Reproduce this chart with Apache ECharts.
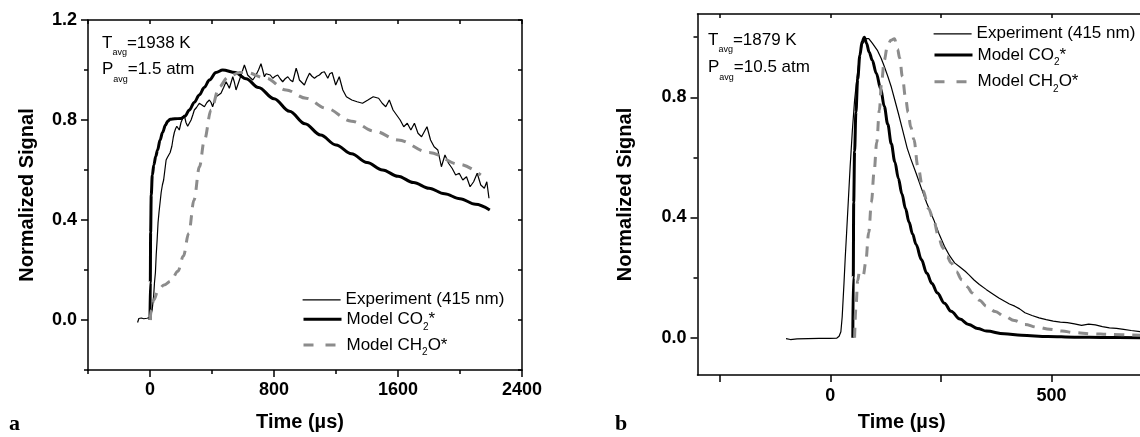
<!DOCTYPE html>
<html>
<head>
<meta charset="utf-8">
<script src="https://cdn.jsdelivr.net/npm/echarts@6/dist/echarts.min.js"></script>
<style>
  html, body { margin: 0; padding: 0; background: #fff; }
  #chart { width: 1140px; height: 437px; }
</style>
</head>
<body>
<div id="chart"></div>
<script>
// ---- panel a : 1938 K, 1.5 atm ----
const expA = [
  [-80,-0.01],[-72,0.006],[-64,0.004],[-56,0.008],[-48,0.003],[-40,0.005],[-30,0.006],[-20,0.007],[-10,0.009],[0,0.01],
  [8,0.015],[14,0.04],[19,0.07],[24,0.1],[29,0.15],[35,0.19],[40,0.26],[46,0.32],[52,0.39],[58,0.43],[65,0.47],[72,0.51],
  [80,0.54],[88,0.56],[96,0.6],[104,0.64],[112,0.65],[122,0.655],[130,0.67],[141,0.695],[150,0.73],[157,0.75],[165,0.765],
  [173,0.775],[181,0.77],[189,0.76],[200,0.79],[210,0.805],[221,0.82],[232,0.79],[243,0.775],[254,0.773],[265,0.8],[276,0.82],
  [286,0.84],[300,0.85],[318,0.867],[335,0.86],[351,0.853],[367,0.87],[383,0.88],[394,0.87],[404,0.853],[415,0.875],[426,0.893],
  [442,0.9],[458,0.907],[475,0.93],[491,0.953],[502,0.94],[512,0.927],[523,0.95],[534,0.973],[545,0.95],[555,0.92],[566,0.94],
  [577,0.96],[593,0.99],[609,1.02],[620,1.0],[630,0.98],[646,0.97],[663,0.96],[674,0.97],[684,0.98],[700,1.0],[716,1.025],
  [727,1.0],[738,0.973],[749,0.985],[760,0.993],[776,0.98],[792,0.967],[808,0.975],[824,0.98],[840,0.965],[856,0.953],
  [872,0.965],[889,0.973],[905,0.96],[921,0.953],[932,0.98],[943,1.007],[954,0.985],[964,0.96],[980,0.95],[996,0.94],
  [1012,0.965],[1029,0.987],[1045,0.975],[1061,0.967],[1077,0.975],[1093,0.98],[1109,0.99],[1125,0.993],[1136,0.98],
  [1147,0.967],[1160,0.985],[1175,0.99],[1198,0.94],[1221,0.973],[1244,0.92],[1267,0.893],[1302,0.88],[1336,0.873],
  [1371,0.867],[1406,0.88],[1440,0.893],[1475,0.887],[1498,0.867],[1521,0.853],[1544,0.88],[1568,0.84],[1591,0.82],
  [1614,0.8],[1637,0.773],[1660,0.787],[1683,0.76],[1706,0.787],[1729,0.747],[1752,0.733],[1787,0.773],[1810,0.72],
  [1833,0.693],[1857,0.68],[1880,0.613],[1903,0.66],[1926,0.627],[1949,0.607],[1972,0.58],[1995,0.587],[2018,0.56],
  [2042,0.573],[2065,0.533],[2088,0.553],[2111,0.587],[2134,0.54],[2157,0.527],[2173,0.553],[2187,0.487]
];
const co2A = [
  [0,0],[2,0.15],[4,0.35],[8,0.5],[15,0.58],[25,0.62],[37,0.655],[49,0.68],[65,0.72],[81,0.75],[100,0.78],[114,0.795],
  [130,0.803],[160,0.805],[200,0.806],[225,0.815],[254,0.84],[285,0.87],[318,0.9],[350,0.93],[383,0.96],[426,0.99],
  [469,1.0],[550,0.99],[620,0.965],[700,0.93],[800,0.885],[900,0.835],[1000,0.785],[1100,0.74],[1200,0.7],[1300,0.665],
  [1400,0.63],[1500,0.6],[1600,0.575],[1700,0.55],[1800,0.527],[1900,0.505],[2000,0.485],[2100,0.463],[2192,0.44]
];
const ch2oA = [
  [0,0],[10,0.04],[25,0.08],[50,0.115],[90,0.14],[134,0.155],[180,0.195],[215,0.255],[250,0.347],[284,0.48],[319,0.613],
  [351,0.72],[394,0.84],[447,0.933],[501,0.97],[577,0.99],[620,0.99],[749,0.967],[878,0.92],[1007,0.887],[1136,0.847],
  [1300,0.795],[1450,0.755],[1600,0.72],[1800,0.67],[2000,0.622],[2134,0.58]
];
const xLabelsA = [0, 800, 1600, 2400];
const xMinorA = [-400, 400, 1200, 2000];
const xAllA = [-400, 0, 400, 800, 1200, 1600, 2000, 2400];
const yLabelsA = [0, 0.4, 0.8, 1.2];
const yMinorA = [-0.2, 0.2, 0.6, 1.0];
const yAllA = [-0.2, 0, 0.2, 0.4, 0.6, 0.8, 1.0, 1.2];

// ---- panel b : 1879 K, 10.5 atm ----
const expB = [
  [-100,-0.003],[-90,-0.006],[-75,-0.004],[-50,-0.003],[-25,-0.002],[0,-0.002],[15,-0.001],[20,0.005],[24,0.02],[27,0.07],
  [31,0.18],[34,0.27],[37,0.35],[41,0.46],[45,0.57],[50,0.69],[55,0.79],[60,0.86],[65,0.92],[72,0.975],[80,0.995],[87,0.995],
  [95,0.98],[107,0.955],[115,0.93],[122,0.903],[130,0.87],[138,0.834],[146,0.79],[154,0.746],[162,0.7],[174,0.63],[182,0.595],
  [194,0.547],[206,0.497],[218,0.448],[234,0.392],[246,0.345],[258,0.304],[270,0.272],[281,0.249],[293,0.235],[305,0.221],
  [313,0.21],[325,0.192],[337,0.177],[353,0.16],[369,0.144],[381,0.132],[393,0.122],[405,0.112],[417,0.105],[428,0.096],
  [440,0.083],[456,0.074],[472,0.066],[488,0.06],[504,0.055],[520,0.052],[536,0.05],[552,0.046],[568,0.041],[584,0.045],
  [599,0.043],[615,0.037],[631,0.033],[647,0.031],[663,0.028],[680,0.024],[700,0.02]
];
const co2B = [
  [51,0],[52,0.2],[53,0.45],[55,0.62],[58,0.75],[62,0.86],[67,0.94],[72,0.985],[77,1.0],[82,0.98],[88,0.95],[95,0.923],
  [104,0.88],[114,0.828],[122,0.77],[130,0.71],[138,0.645],[146,0.585],[154,0.53],[162,0.478],[170,0.43],[178,0.385],
  [186,0.345],[194,0.31],[206,0.26],[218,0.215],[230,0.18],[242,0.149],[258,0.115],[273,0.088],[293,0.062],[313,0.044],
  [333,0.031],[353,0.022],[393,0.013],[432,0.008],[492,0.004],[552,0.002],[620,0.001],[700,0]
];
const ch2oB = [
  [55,0],[58,0.1],[62,0.19],[66,0.22],[70,0.215],[75,0.21],[80,0.25],[87,0.35],[93,0.45],[99,0.55],[105,0.65],[111,0.757],
  [116,0.85],[122,0.923],[129,0.969],[137,0.99],[145,0.995],[152,0.96],[157,0.93],[163,0.869],[170,0.8],[176,0.75],[182,0.7],
  [189,0.66],[198,0.57],[210,0.49],[222,0.43],[234,0.39],[244,0.34],[254,0.3],[264,0.27],[273,0.249],[285,0.22],[297,0.193],
  [309,0.17],[321,0.149],[337,0.125],[353,0.105],[373,0.087],[393,0.072],[416,0.057],[440,0.044],[468,0.035],[496,0.028],
  [524,0.022],[552,0.017],[590,0.013],[631,0.011],[700,0.008]
];
const xTicksB = [-250, 0, 250, 500];
const xLabelsB = [0, 500];
const yLabelsB = [0, 0.4, 0.8];
const yMinorB = [0.2, 0.6, 1.0];

const names = ['Experiment (415 nm)', 'Model CO2*', 'Model CH2O*'];

const FONT = '"Liberation Sans", Arial, sans-serif';
const BLACK = '#000';
const GREY = '#8c8c8c';
const lineStyles = [
  { color: BLACK, width: 1.2, type: 'solid' },
  { color: BLACK, width: 3, type: 'solid' },
  { color: GREY, width: 3, type: [10, 8] }
];

const chart = echarts.init(document.getElementById('chart'));

const lineAx = { show: true, onZero: false, lineStyle: { color: BLACK, width: 1.5 } };
const noLine = { show: false, onZero: false };
const tickStyle = { color: BLACK, width: 1.5 };

function ax(extra) {
  return Object.assign({
    type: 'value',
    splitLine: { show: false },
    axisLabel: { show: false },
    axisLine: noLine
  }, extra);
}

const labelStyle = { fontSize: 18, fontWeight: 'bold', color: BLACK, fontFamily: FONT };
const nameStyle = { fontSize: 20, fontWeight: 'bold', color: BLACK, fontFamily: FONT };
const xFmt = v => String(v);
const yFmt = v => v.toFixed(1);

const xAxes = [
  // panel a
  ax({ gridIndex: 0, position: 'bottom', min: -400, max: 2400, axisLine: lineAx,
       axisTick: { customValues: xLabelsA, length: 7, lineStyle: tickStyle },
       axisLabel: Object.assign({ customValues: xLabelsA, margin: 11, formatter: xFmt }, labelStyle),
       name: 'Time (µs)', nameLocation: 'middle', nameGap: 42,
       nameTextStyle: Object.assign({ padding: [0, 10, 0, 0] }, nameStyle) }),
  ax({ gridIndex: 0, position: 'bottom', min: -400, max: 2400,
       axisTick: { customValues: xMinorA, length: 4, lineStyle: tickStyle } }),
  ax({ gridIndex: 0, position: 'top', min: -400, max: 2400, axisLine: lineAx,
       axisTick: { customValues: xAllA, inside: true, length: 4, lineStyle: tickStyle } }),
  // panel b
  ax({ gridIndex: 1, position: 'bottom', min: -300, max: 700, axisLine: lineAx,
       axisTick: { customValues: xTicksB, length: 7, lineStyle: tickStyle },
       axisLabel: Object.assign({ customValues: xLabelsB, margin: 12, formatter: xFmt }, labelStyle),
       name: 'Time (µs)', nameLocation: 'middle', nameGap: 37,
       nameTextStyle: Object.assign({ padding: [0, 34, 0, 0] }, nameStyle) }),
  ax({ gridIndex: 1, position: 'top', min: -300, max: 700, axisLine: lineAx,
       axisTick: { customValues: xTicksB, inside: true, length: 4, lineStyle: tickStyle } })
];

const yAxes = [
  // panel a
  ax({ gridIndex: 0, position: 'left', min: -0.2, max: 1.2, axisLine: lineAx,
       axisTick: { customValues: yLabelsA, length: 7, lineStyle: tickStyle },
       axisLabel: Object.assign({ customValues: yLabelsA, margin: 11, formatter: yFmt }, labelStyle),
       name: 'Normalized Signal', nameLocation: 'middle', nameGap: 51, nameTextStyle: nameStyle }),
  ax({ gridIndex: 0, position: 'left', min: -0.2, max: 1.2,
       axisTick: { customValues: yMinorA, length: 4, lineStyle: tickStyle } }),
  ax({ gridIndex: 0, position: 'right', min: -0.2, max: 1.2, axisLine: lineAx,
       axisTick: { customValues: yAllA, inside: true, length: 4, lineStyle: tickStyle } }),
  // panel b
  ax({ gridIndex: 1, position: 'left', min: -0.124, max: 1.077, axisLine: lineAx,
       axisTick: { customValues: yLabelsB, length: 7, lineStyle: tickStyle },
       axisLabel: Object.assign({ customValues: yLabelsB, margin: 11, formatter: yFmt }, labelStyle),
       name: 'Normalized Signal', nameLocation: 'middle', nameGap: 62, nameTextStyle: nameStyle }),
  ax({ gridIndex: 1, position: 'left', min: -0.124, max: 1.077,
       axisTick: { customValues: yMinorB, length: 4, lineStyle: tickStyle } })
];

function mkSeries(data, i, xi, yi) {
  return {
    type: 'line', name: names[i], data: data, xAxisIndex: xi, yAxisIndex: yi,
    symbol: 'none', showSymbol: false,
    smooth: i === 0 ? false : 0.35, smoothMonotone: 'x',
    lineStyle: lineStyles[i], itemStyle: { color: lineStyles[i].color }
  };
}

// one legend per row so the rows sit where the original has them
function mkLegend(i, left, top) {
  const hasSub = i > 0;
  const ls = Object.assign({}, lineStyles[i]);
  if (i === 2) ls.type = [10, 12];
  return {
    orient: 'vertical', left: left, top: top, padding: 0, itemGap: 0, itemWidth: 38, itemHeight: 14,
    selectedMode: false,
    itemStyle: { opacity: 0 },
    data: [{ name: names[i], lineStyle: ls }],
    formatter: n => n.replace(/(CO|CH)2/, '$1{s|2}'),
    textStyle: {
      fontSize: 17, color: BLACK, fontFamily: FONT, lineHeight: hasSub ? 25 : 16,
      rich: { s: { fontSize: 10, lineHeight: 10, padding: [15, 0, 0, 0], color: BLACK, fontFamily: FONT } }
    }
  };
}

const annText = {
  fontSize: 17, fontWeight: 'normal', color: BLACK, fontFamily: FONT, lineHeight: 28,
  rich: { s: { fontSize: 9, lineHeight: 9, padding: [19, 0, 0, 0], color: BLACK, fontFamily: FONT } }
};
function ann(text, left, top) {
  return { text: text, left: left, top: top, padding: 0, textStyle: annText };
}
const letterStyle = { fontSize: 22, fontWeight: 'bold', color: BLACK, fontFamily: '"Liberation Serif", "Times New Roman", serif' };

chart.setOption({
  animation: false,
  backgroundColor: '#fff',
  grid: [
    { left: 88, top: 20, width: 434, height: 350 },
    { left: 697.5, top: 14, width: 447.2, height: 361.7 }
  ],
  xAxis: xAxes,
  yAxis: yAxes,
  title: [
    ann('T{s|avg}=1938 K', 102, 29.2),
    ann('P{s|avg}=1.5 atm', 102, 55.6),
    ann('T{s|avg}=1879 K', 708, 26.5),
    ann('P{s|avg}=10.5 atm', 708, 53.7),
    { text: 'a', left: 9, top: 413, padding: 0, textStyle: letterStyle },
    { text: 'b', left: 615, top: 413, padding: 0, textStyle: letterStyle }
  ],
  legend: [
    mkLegend(0, 302, 291.3), mkLegend(1, 302, 306.8), mkLegend(2, 302, 332.5),
    mkLegend(0, 933, 25.3), mkLegend(1, 933, 42.5), mkLegend(2, 933, 69.2)
  ],
  series: [
    mkSeries(expA, 0, 0, 0), mkSeries(co2A, 1, 0, 0), mkSeries(ch2oA, 2, 0, 0),
    mkSeries(expB, 0, 3, 3), mkSeries(co2B, 1, 3, 3), mkSeries(ch2oB, 2, 3, 3)
  ]
});
</script>
</body>
</html>
